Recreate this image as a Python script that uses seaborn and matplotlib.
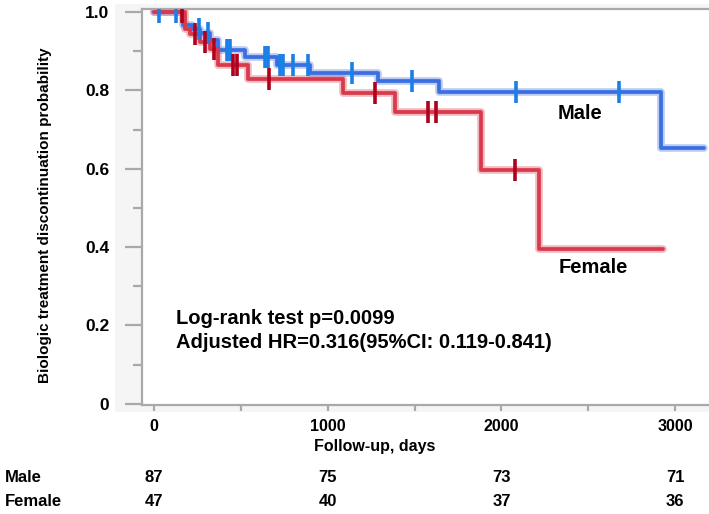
import numpy as np
import pandas as pd
import seaborn as sns
import matplotlib.pyplot as plt
from matplotlib.patches import Rectangle
from matplotlib.ticker import MultipleLocator
from matplotlib.transforms import blended_transform_factory

sns.set_style('white')
plt.rcParams['font.family'] = ['Liberation Sans', 'DejaVu Sans']
plt.rcParams['font.weight'] = 'bold'
plt.rcParams['text.color'] = 'black'

# Kaplan-Meier steps (days, probability)
male_time = [0, 167, 219, 265, 322, 368, 524, 707, 898, 1290, 1641, 2919, 3166]
male_surv = [1.0, 0.967, 0.957, 0.946, 0.930, 0.903, 0.886, 0.865, 0.845, 0.824, 0.797, 0.653, 0.653]
male_censor = [29, 127, 259, 309, 419, 438, 639, 656, 725, 740, 800, 885, 1138, 1484, 2083, 2677]

female_time = [0, 178, 207, 265, 322, 368, 541, 1088, 1388, 1881, 2219, 2929]
female_surv = [1.0, 0.957, 0.944, 0.925, 0.905, 0.865, 0.830, 0.793, 0.746, 0.597, 0.395, 0.395]
female_censor = [160, 236, 293, 346, 453, 478, 662, 1272, 1578, 1624, 2079]

risk_days = [0, 1000, 2000, 3000]
risk_male = [87, 75, 73, 71]
risk_female = [47, 40, 37, 36]

groups = [
    ('Male', male_time, male_surv, male_censor, '#3b6fe0', '#1a80e6'),
    ('Female', female_time, female_surv, female_censor, '#d83a4c', '#b0001c'),
]


def step_value(times, surv, t):
    idx = np.searchsorted(times, t, side='right') - 1
    return np.asarray(surv)[idx]


fig = plt.figure(figsize=(7.09, 5.14), dpi=100)
fig.patch.set_facecolor('white')
fig.patches.append(Rectangle((115 / 709, 1 - 412 / 514), 594 / 709, 408 / 514,
                             transform=fig.transFigure, facecolor='#f5f5f5',
                             edgecolor='none', zorder=-10))
ax = fig.add_axes([142 / 709, 1 - 405 / 514, 567 / 709, 396 / 514])
ax.set_facecolor('white')

for name, t, s, cens, col, ccol in groups:
    df = pd.DataFrame({'days': t, 'prob': s})
    sns.lineplot(data=df, x='days', y='prob', drawstyle='steps-post', estimator=None,
                 color=col, lw=5.5, alpha=0.35, ax=ax, zorder=2)
    sns.lineplot(data=df, x='days', y='prob', drawstyle='steps-post', estimator=None,
                 color=col, lw=2.7, ax=ax, zorder=3)
    cdf = pd.DataFrame({'days': cens, 'prob': step_value(t, s, cens)})
    sns.scatterplot(data=cdf, x='days', y='prob', marker='|', s=230, linewidth=2.6,
                    color=ccol, ax=ax, zorder=4)

ax.set_xlim(-69, 3195)
ax.set_ylim(-0.003, 1.008)
ax.set_xticks(risk_days)
ax.xaxis.set_minor_locator(MultipleLocator(500))
ax.set_yticks([0, 0.2, 0.4, 0.6, 0.8, 1.0])
ax.set_yticklabels(['0', '0.2', '0.4', '0.6', '0.8', '1.0'])
ax.yaxis.set_minor_locator(MultipleLocator(0.1))
ax.set_xlabel('')
ax.set_ylabel('')

gray = '#a9a9a9'
for side in ['left', 'top', 'bottom']:
    ax.spines[side].set_color(gray)
    ax.spines[side].set_linewidth(1.6)
ax.spines['right'].set_visible(False)

ax.tick_params(axis='y', which='major', length=12.5, width=1.6, color=gray,
               labelsize=12.5, pad=11, left=True, labelcolor='black')
ax.tick_params(axis='y', which='minor', length=6.5, width=1.6, color=gray, left=True)
ax.tick_params(axis='x', which='both', length=4, width=1.6, color=gray,
               direction='out', labelsize=11.5, pad=6, bottom=True, labelcolor='black')
for lab in ax.get_xticklabels() + ax.get_yticklabels():
    lab.set_fontweight('bold')

ax.text(2453, 0.742, 'Male', fontsize=14.5, fontweight='bold', ha='center', va='center')
ax.text(2528, 0.347, 'Female', fontsize=14.5, fontweight='bold', ha='center', va='center')
ax.text(127, 0.217, 'Log-rank test p=0.0099', fontsize=14.5, fontweight='bold',
        ha='left', va='center')
ax.text(127, 0.156, 'Adjusted HR=0.316(95%CI: 0.119-0.841)', fontsize=14.5,
        fontweight='bold', ha='left', va='center')

fig.text(45 / 709, 1 - 215 / 514, 'Biologic treatment discontinuation probability',
         rotation=90, ha='center', va='center', fontsize=11, fontweight='bold')
fig.text(375 / 709, 1 - 447 / 514, 'Follow-up, days', ha='center', va='center',
         fontsize=11.5, fontweight='bold')

# number at risk table
tr = blended_transform_factory(ax.transData, fig.transFigure)
fig.text(5 / 709, 1 - 477 / 514, 'Male', ha='left', va='center', fontsize=12, fontweight='bold')
fig.text(5 / 709, 1 - 502 / 514, 'Female', ha='left', va='center', fontsize=12, fontweight='bold')
for d, m, f in zip(risk_days, risk_male, risk_female):
    ax.text(d, 1 - 477 / 514, str(m), transform=tr, ha='center', va='center',
            fontsize=12, fontweight='bold', clip_on=False)
    ax.text(d, 1 - 502 / 514, str(f), transform=tr, ha='center', va='center',
            fontsize=12, fontweight='bold', clip_on=False)

fig.savefig('out.png', dpi=100)
